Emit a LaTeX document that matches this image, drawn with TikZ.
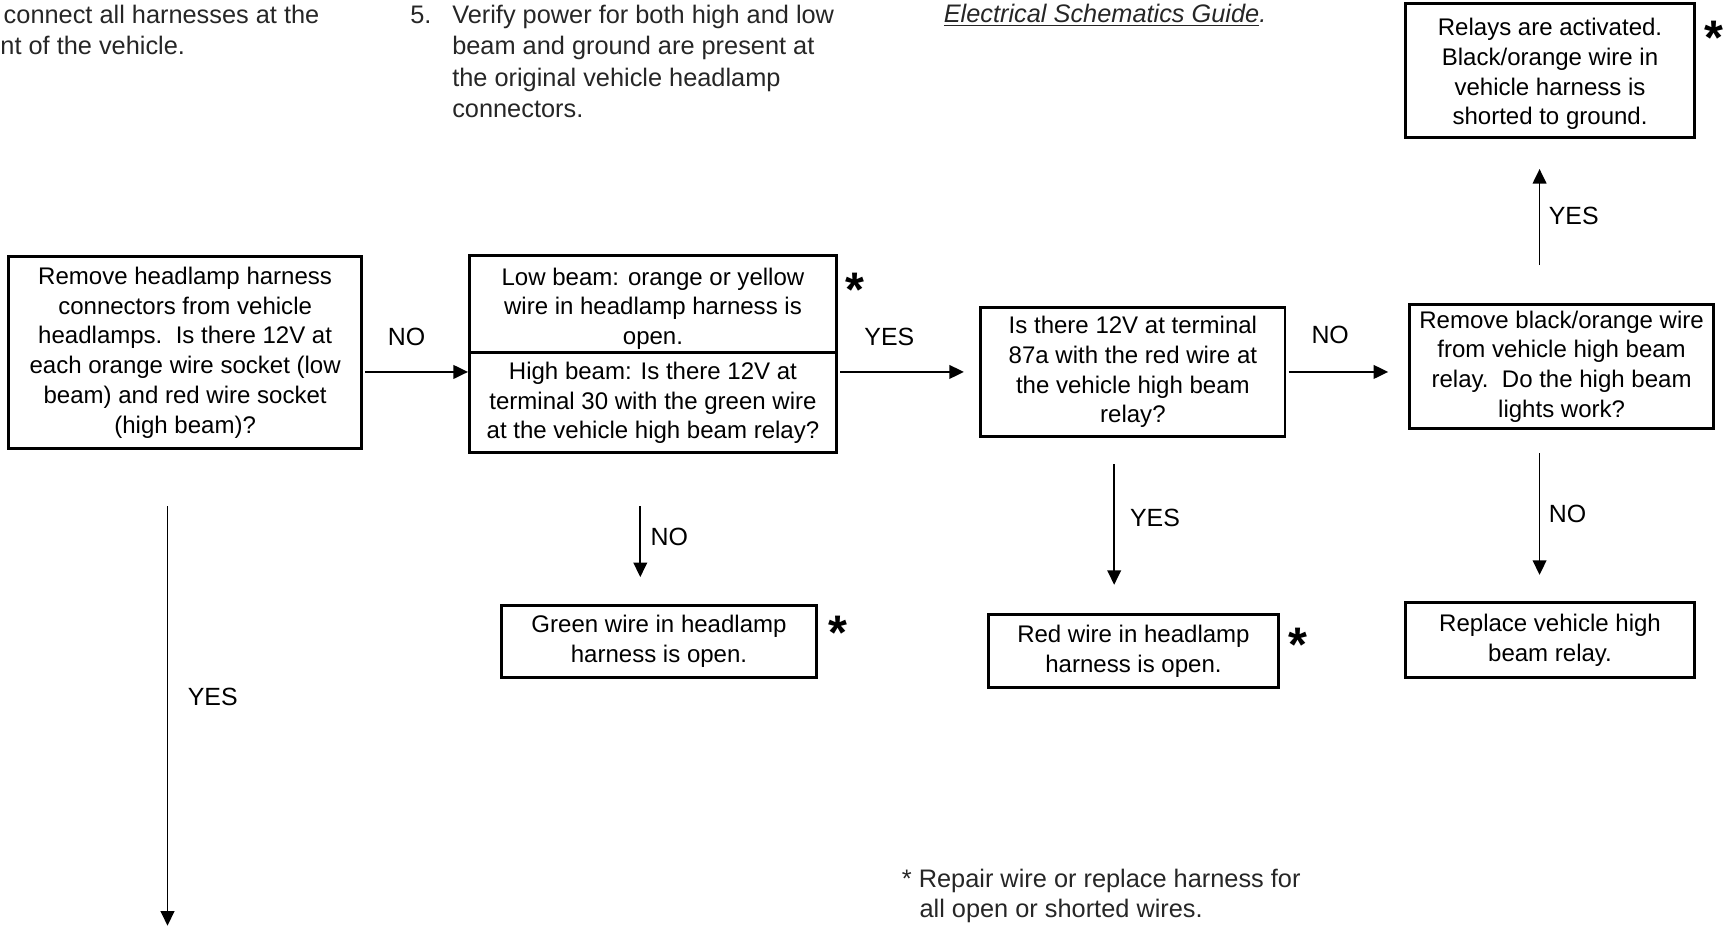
\documentclass[tikz,border=0pt]{standalone}
\usepackage{fontspec}
\setmainfont{Liberation Sans}
\usetikzlibrary{arrows.meta}
\newcommand\boxfont{\fontsize{10.9}{13.5}\selectfont}
\newcommand\lblfont{\fontsize{11.3}{13.5}\selectfont}
\newcommand\topfont{\fontsize{11.5}{14}\selectfont}
\newcommand\starfont{\fontsize{22}{22}\selectfont\bfseries}
\begin{document}
\begin{tikzpicture}[x=0.5pt,y=-0.5pt,
  box/.style={draw=black, line width=1.35pt, align=center, inner sep=0pt, font=\boxfont},
  arr/.style={line width=0.8pt, -{Triangle[length=6.6pt,width=6.2pt]}},
  lbl/.style={font=\lblfont, inner sep=0pt},
  star/.style={font=\starfont, inner sep=0pt, anchor=base},
  topline/.style={font=\topfont, text=black!85, inner sep=0pt, anchor=west, text height=8.2pt, text depth=0pt},
]
\path[use as bounding box] (0,0) rectangle (1568,841);

% top texts
\node[topline] (t1) at (3,13) {connect all harnesses at the};
\node[topline] (t2) at (0,41) {nt of the vehicle.};
\node[topline] (n5) at (372,13) {5.};
\node[topline] (m1) at (410,13) {Verify power for both high and low};
\node[topline] (m2) at (410,41) {beam and ground are present at};
\node[topline] (m3) at (410,70) {the original vehicle headlamp};
\node[topline] (m4) at (410,98) {connectors.};
\node[topline] (esg) at (856,12) {\itshape\underline{Electrical Schematics Guide}.};

% boxes
\node[box, minimum width=160pt, minimum height=87pt] (A) at (168,320)
  {Remove headlamp harness\\connectors from vehicle\\headlamps.\ \ Is there 12V at\\each orange wire socket (low\\beam) and red wire socket\\(high beam)?};
\node[box, minimum width=166.5pt, minimum height=44pt] (B1) at (592.5,276)
  {\rule{0pt}{12pt}Low beam: orange or yellow\\wire in headlamp harness is\\open.};
\node[box, minimum width=166.5pt, minimum height=45.5pt] (B2) at (592.5,365.5)
  {High beam: Is there 12V at\\terminal 30 with the green wire\\at the vehicle high beam relay?};
\node[box, minimum width=138pt, minimum height=58.5pt] (C) at (1028,337.5)
  {Is there 12V at terminal\\87a with the red wire at\\the vehicle high beam\\relay?};
\node[box, minimum width=138pt, minimum height=56.5pt] (D) at (1417,332.5)
  {Remove black/orange wire\\from vehicle high beam\\relay.\ \ Do the high beam\\lights work?};
\node[box, minimum width=131.5pt, minimum height=61pt] (R) at (1406.5,64)
  {\rule{0pt}{11pt}Relays are activated.\\Black/orange wire in\\vehicle harness is\\shorted to ground.};
\node[box, minimum width=131.5pt, minimum height=34pt] (F) at (1406.5,581)
  {Replace vehicle high\\beam relay.};
\node[box, minimum width=131.5pt, minimum height=33pt] (G) at (1028.5,591)
  {Red wire in headlamp\\harness is open.};
\node[box, minimum width=143pt, minimum height=33pt] (H) at (598,582)
  {Green wire in headlamp\\harness is open.};

% asterisks
\node[star] (s1) at (776,278) {*};
\node[star] (s2) at (760,589) {*};
\node[star] (s3) at (1178,600) {*};
\node[star] (s4) at (1555,49) {*};

% connectors
\coordinate (xa) at (152,0);
\coordinate (xb) at (581,0);
\coordinate (xc) at (1011,0);
\coordinate (xd) at (1397,0);
\coordinate (aend) at (152,840);

\draw[arr, shorten <=1pt] (A.east |- C.west) -- (B2.west |- C.west);
\draw[arr, shorten <=1pt, shorten >=7pt] (B2.east |- C.west) -- (C.west);
\draw[arr, shorten <=1pt, shorten >=9pt] (C.east) -- (D.west |- C.west);
\draw[arr, shorten <=25.5pt] (A.south -| xa) -- (aend);
\draw[arr, shorten <=23.5pt, shorten >=12pt] (B2.south -| xb) -- (H.north -| xb);
\draw[arr, shorten <=12pt, shorten >=13pt] (C.south -| xc) -- (G.north -| xc);
\draw[arr, shorten <=10.5pt, shorten >=12pt] (D.south -| xd) -- (F.north -| xd);
\draw[arr, shorten <=17pt, shorten >=13.5pt] (D.north -| xd) -- (R.south -| xd);

% labels
\node[lbl] (lAB) at (369,306) {NO};
\node[lbl] (lBC) at (807,306) {YES};
\node[lbl] (lCD) at (1207,304) {NO};
\node[lbl, anchor=west] (lDR) at (1405,196) {YES};
\node[lbl, anchor=west] (lDF) at (1405,466) {NO};
\node[lbl, anchor=west] (lCG) at (1025,470) {YES};
\node[lbl, anchor=west] (lBH) at (590,487) {NO};
\node[lbl, anchor=west] (lA) at (170,632) {YES};

% footnote
\node[topline] (f1) at (818,797) {* Repair wire or replace harness for};
\node[topline] (f2) at (834,824) {all open or shorted wires.};
\end{tikzpicture}
\end{document}
